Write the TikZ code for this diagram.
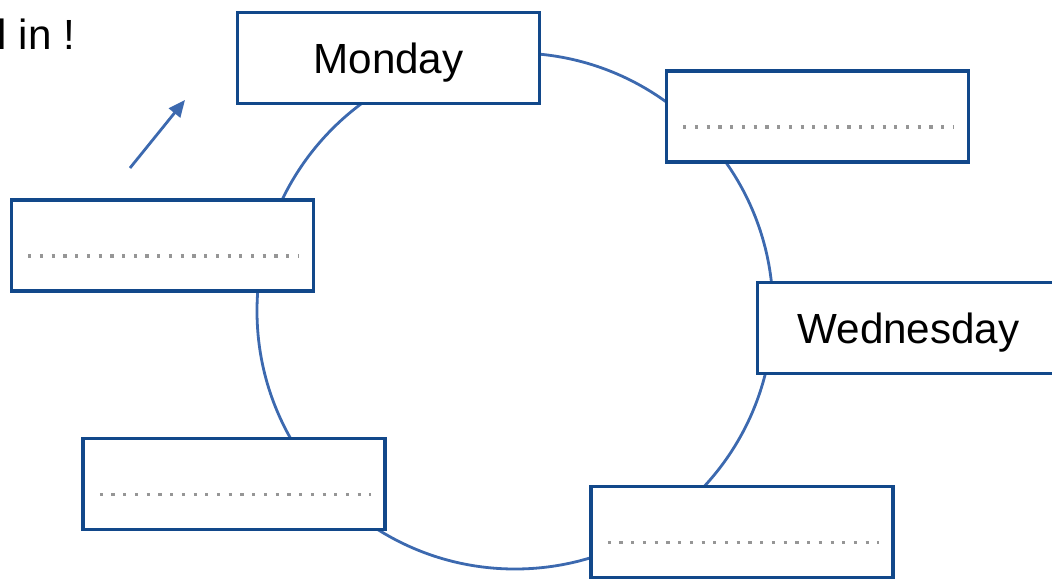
\documentclass[tikz,border=0pt]{standalone}
\usepackage{fontspec}
\setmainfont{Liberation Sans}
\usepackage{tikz}
\usetikzlibrary{arrows.meta,positioning}
\definecolor{boxblue}{RGB}{18,72,138}
\definecolor{ringblue}{RGB}{60,105,175}
\definecolor{dotgray}{RGB}{150,150,150}

\begin{document}
\begin{tikzpicture}[
    x=0.025cm, y=-0.025cm,
    day/.style={rectangle, draw=boxblue, line width=0.085cm, fill=white, minimum width=7.55cm, minimum height=2.28cm, inner sep=0pt, text depth=0pt, font=\fontsize{30}{36}\selectfont},
    blank/.style={day, path picture={\draw[dotgray, line width=0.08cm, dash pattern=on 0.08cm off 0.213cm] ([xshift=0.42cm, yshift=-0.26cm]path picture bounding box.west) -- ([xshift=-0.36cm, yshift=-0.26cm]path picture bounding box.east);}},
    ring/.style={draw=ringblue, line width=0.07cm},
    arrow/.style={-{Triangle[length=0.42cm, width=0.36cm]}, ringblue, line width=0.07cm}
]
    \useasboundingbox (0,0) rectangle (1052,579);

    \coordinate (hub) at (515,311);
    \draw[ring] (hub) circle[radius=258];

    \node[day] (mon) at (388.5,58) {Monday};
    \node[blank] (tue) at (817.5,116.5) {};
    \node[day] (wed) at (908.5,328) {Wednesday};
    \node[blank] (thu) at (742,532) {};
    \node[blank] (fri) at (234,484) {};
    \node[blank] (sat) at (162.5,245.5) {};

    \node[anchor=base east, font=\fontsize{30}{36}\selectfont] (hint) at (80,49) {Fill in !};
    \coordinate (tail) at (130,168);
    \coordinate (tip) at (185,100);
    \draw[arrow] (tail) -- (tip);
\end{tikzpicture}
\end{document}
